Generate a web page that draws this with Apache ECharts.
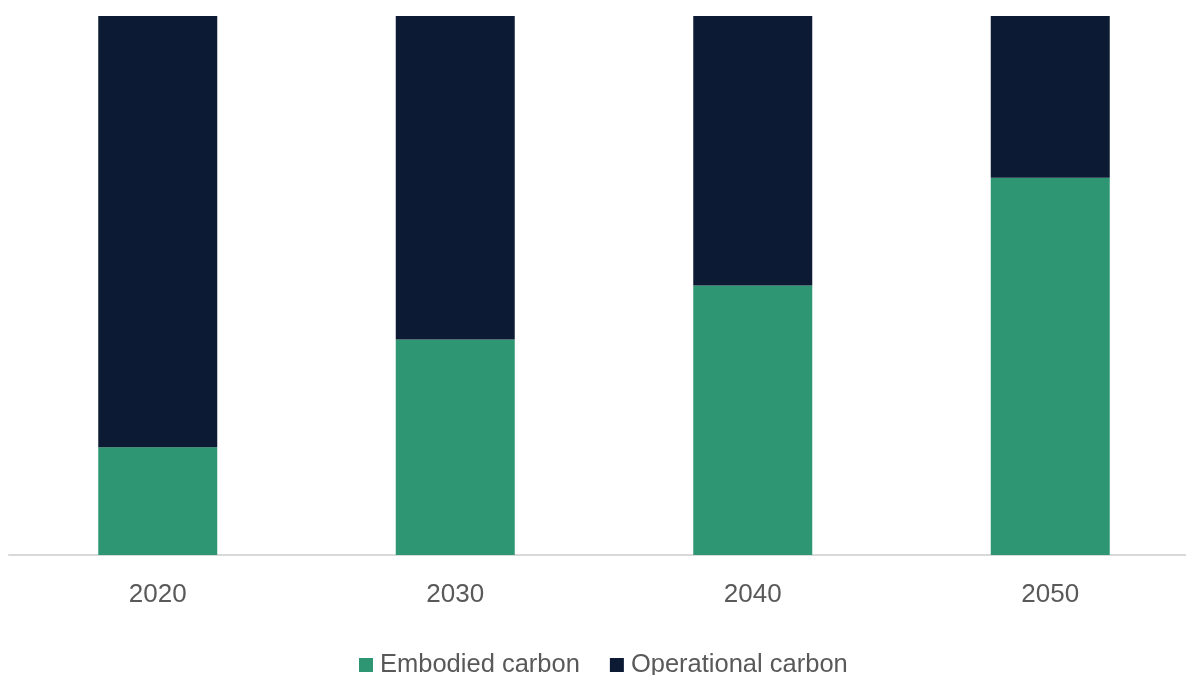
<!DOCTYPE html>
<html><head><meta charset="utf-8">
<script src="https://cdn.jsdelivr.net/npm/echarts@6/dist/echarts.min.js"></script>
<style>html,body{margin:0;padding:0;background:#fff}#c{width:1186px;height:675px}</style>
</head><body><div id="c"></div>
<script>
const categories = ['2020', '2030', '2040', '2050'];
const embodied = [20, 40, 50, 70];
const operational = [80, 60, 50, 30];
const seriesNames = ['Embodied carbon', 'Operational carbon'];

const chart = echarts.init(document.getElementById('c'));
chart.setOption({
  animation: false,
  textStyle: { fontFamily: 'Liberation Sans, Arial, sans-serif' },
  grid: { left: 9, width: 1190, top: 16, bottom: 120, containLabel: false, outerBoundsMode: 'none' },
  legend: {
    bottom: -8, left: 354,
    itemWidth: 14, itemHeight: 14, itemGap: 30,
    icon: 'rect',
    textStyle: { fontSize: 25.5, color: '#595959', padding: [0,0,0,2] },
    data: seriesNames
  },
  xAxis: {
    type: 'category', data: categories,
    axisLine: { lineStyle: { color: '#D9D9D9', width: 2 } },
    axisTick: { show: false },
    axisLabel: { fontSize: 26, color: '#595959', margin: 27 }
  },
  yAxis: { type: 'value', min: 0, max: 100, show: false, splitLine: { show: false } },
  series: [
    { name: seriesNames[0], type: 'bar', stack: 'a', data: embodied, barWidth: '40%', itemStyle: { color: '#2E9672' } },
    { name: seriesNames[1], type: 'bar', stack: 'a', data: operational, barWidth: '40%', itemStyle: { color: '#0C1B33' } }
  ]
});
</script></body></html>
